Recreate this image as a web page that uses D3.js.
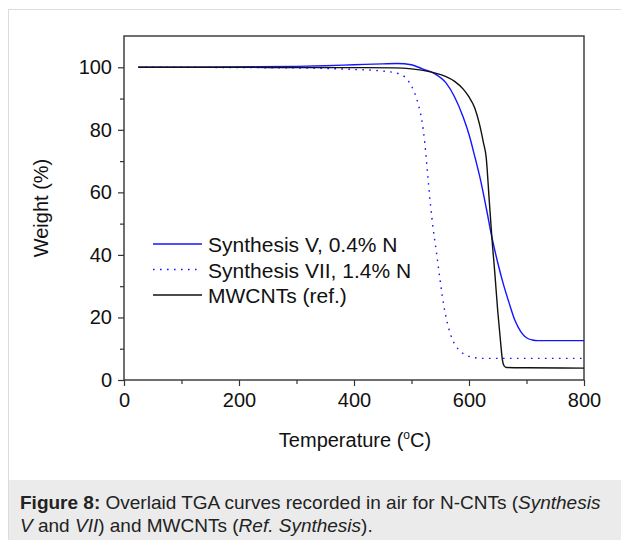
<!DOCTYPE html>
<html>
<head>
<meta charset="utf-8">
<script src="https://cdn.jsdelivr.net/npm/d3@7"></script>
<style>
  body { margin: 0; background: #fff; }
  svg { display: block; font-family: "Liberation Sans", Arial, sans-serif; }
</style>
</head>
<body>
<div id="chart"></div>
<script>
// temperatures (°C) and weights (%)
var tempV   = [25, 100, 200, 300, 350, 400, 450, 475, 500, 520, 540, 560, 575, 590, 600, 610, 620, 630, 640, 650, 660, 670, 680, 690, 700, 710, 720, 760, 800];
var weightV = [100, 100, 100.1, 100.3, 100.5, 100.8, 101.1, 101.2, 100.8, 99.4, 98, 95, 90.5, 84, 78.5, 71.5, 64, 55, 45.5, 37.5, 30.5, 24.5, 19, 15.5, 13.5, 12.8, 12.6, 12.6, 12.6];

var tempVII   = [25, 100, 200, 300, 400, 450, 480, 495, 505, 512, 518, 523, 528, 533, 538, 544, 550, 556, 562, 568, 575, 585, 597, 610, 630, 700, 800];
var weightVII = [100, 100, 99.9, 99.8, 99.3, 98.8, 97.8, 95.5, 92, 88, 83, 76, 66, 56, 48, 40, 31.5, 24, 18.5, 14.5, 11.5, 9.2, 7.8, 7.1, 6.9, 6.9, 6.9];

var tempRef   = [25, 100, 200, 300, 400, 470, 500, 520, 540, 560, 575, 590, 600, 610, 618, 625, 630, 635, 640, 645, 650, 655, 658, 661, 665, 700, 800];
var weightRef = [100, 100, 100, 99.9, 99.9, 99.8, 99.5, 99, 98.2, 97, 95.5, 93, 90.5, 87, 82, 76, 71, 58, 45, 34, 22, 12, 6.5, 4.5, 4, 3.9, 3.8];

var seriesNames = ["Synthesis V, 0.4% N", "Synthesis VII, 1.4% N", "MWCNTs (ref.)"];
var xTicks = [0, 200, 400, 600, 800];
var yTicks = [0, 20, 40, 60, 80, 100];

var width = 621, height = 540;

var svg = d3.select('#chart')
            .append('svg')
            .attr('width', width)
            .attr('height', height);

// outer frame + caption box
svg.append('rect')
   .attr('x', 8.5).attr('y', 9.5)
   .attr('width', width).attr('height', height)
   .attr('fill', 'none').attr('stroke', '#dcdcdc');
svg.append('rect')
   .attr('x', 9).attr('y', 480)
   .attr('width', width - 9).attr('height', height - 480)
   .attr('fill', '#ebebeb');

var caption = svg.append('text')
   .attr('x', 20).attr('y', 509)
   .style('font-size', '19px').attr('fill', '#222');
caption.append('tspan').style('font-weight', 'bold').text('Figure 8:');
caption.append('tspan').text(' Overlaid TGA curves recorded in air for N-CNTs (');
caption.append('tspan').style('font-style', 'italic').text('Synthesis');
var caption2 = svg.append('text')
   .attr('x', 20).attr('y', 532)
   .style('font-size', '19px').attr('fill', '#222');
caption2.append('tspan').style('font-style', 'italic').text('V');
caption2.append('tspan').text(' and ');
caption2.append('tspan').style('font-style', 'italic').text('VII');
caption2.append('tspan').text(') and MWCNTs (');
caption2.append('tspan').style('font-style', 'italic').text('Ref. Synthesis');
caption2.append('tspan').text(').');

var x = d3.scaleLinear().domain([0, 800]).range([124, 584]);
var y = d3.scaleLinear().domain([0, 110]).range([380, 36]);

var axisColor = '#333';

// frame of the plot
svg.append('rect')
   .attr('x', x(0)).attr('y', y(110))
   .attr('width', x(800) - x(0)).attr('height', y(0) - y(110))
   .attr('fill', 'none').attr('stroke', axisColor).attr('stroke-width', 1.4);

// minor ticks
var xMinor = d3.axisBottom(x).tickValues([100, 300, 500, 700]).tickSize(4).tickFormat('');
var yMinor = d3.axisLeft(y).tickValues([10, 30, 50, 70, 90]).tickSize(4).tickFormat('');

var xAxis = d3.axisBottom(x).tickValues(xTicks).tickSize(6).tickPadding(7);
var yAxis = d3.axisLeft(y).tickValues(yTicks).tickSize(6).tickPadding(6);

[
  svg.append('g').attr('transform', 'translate(0,' + y(0) + ')').call(xAxis),
  svg.append('g').attr('transform', 'translate(0,' + y(0) + ')').call(xMinor),
  svg.append('g').attr('transform', 'translate(' + x(0) + ',0)').call(yAxis),
  svg.append('g').attr('transform', 'translate(' + x(0) + ',0)').call(yMinor)
].forEach(function(g) {
  g.select('.domain').remove();
  g.selectAll('line').attr('stroke', axisColor).attr('stroke-width', 1.2);
  g.selectAll('text').attr('fill', '#111')
   .style('font-size', '20px').style('font-family', '"Liberation Sans", Arial, sans-serif');
});

// axis titles
var xt = svg.append('text')
   .attr('x', 355).attr('y', 447)
   .attr('text-anchor', 'middle')
   .style('font-size', '20px').attr('fill', '#111');
xt.append('tspan').text('Temperature (');
xt.append('tspan').attr('dy', -8).style('font-size', '12px').text('o');
xt.append('tspan').attr('dy', 8).text('C)');

svg.append('text')
   .attr('transform', 'translate(48,208) rotate(-90)')
   .attr('text-anchor', 'middle')
   .style('font-size', '20px').attr('fill', '#111')
   .text('Weight (%)');

// curves
var line = d3.line()
   .x(function(d) { return x(d[0]); })
   .y(function(d) { return y(d[1]); })
   .curve(d3.curveMonotoneX);

var series = [
  { name: seriesNames[0], data: d3.zip(tempV, weightV), color: '#1414ff', dash: null },
  { name: seriesNames[1], data: d3.zip(tempVII, weightVII), color: '#1414ff', dash: '1.6 5.4' },
  { name: seriesNames[2], data: d3.zip(tempRef, weightRef), color: '#111', dash: null }
];

series.forEach(function(s) {
  svg.append('path')
     .datum(s.data)
     .attr('d', line)
     .attr('fill', 'none')
     .attr('stroke', s.color)
     .attr('stroke-width', 1.4)
     .attr('stroke-dasharray', s.dash);
});

// legend
var legend = svg.append('g');
series.forEach(function(s, i) {
  var ly = 244 + i * 25.5;
  legend.append('line')
     .attr('x1', 153).attr('x2', 202)
     .attr('y1', ly).attr('y2', ly)
     .attr('stroke', s.color).attr('stroke-width', 1.4)
     .attr('stroke-dasharray', s.dash);
  legend.append('text')
     .attr('x', 208).attr('y', ly + 8)
     .style('font-size', '21px').attr('fill', '#111')
     .text(s.name);
});
</script>
</body>
</html>
